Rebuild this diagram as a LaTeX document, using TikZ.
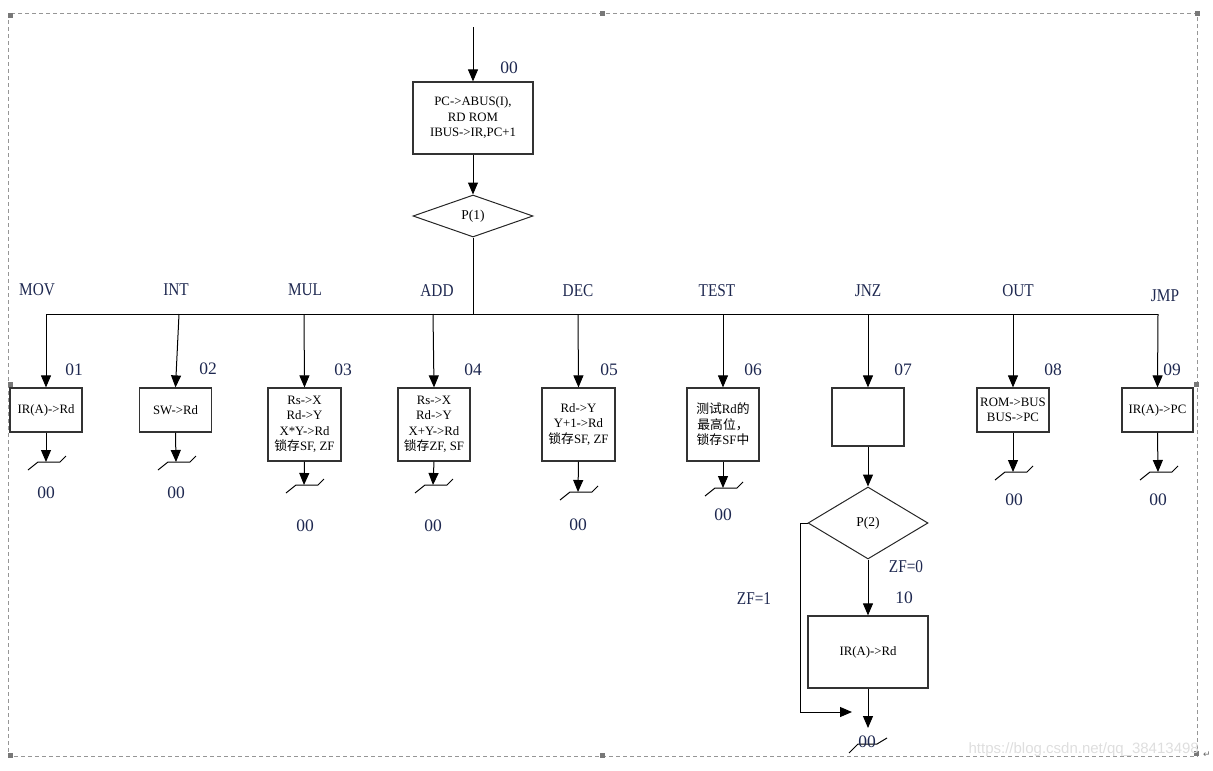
\documentclass[tikz,border=0pt]{standalone}
\usepackage{fontspec}
\setmainfont{Liberation Serif}
\newfontfamily\cjk{Noto Sans CJK SC}
\newfontfamily\lblfont[FakeStretch=0.85]{Liberation Serif}
\newfontfamily\wmfont{Liberation Sans}
\newfontfamily\symfont{DejaVu Sans}
\usetikzlibrary{shapes.geometric,arrows.meta}
\definecolor{lbl}{RGB}{30,40,80}
\definecolor{frame}{RGB}{150,150,150}
\newcommand\nxt[1]{\draw[ln] (#1) ++(-18,8) -- ++(10,-8) -- ++(22,0) -- ++(6,-6);}
\begin{document}
\begin{tikzpicture}[x=1pt,y=-1pt,
  box/.style={draw=black!80,line width=1.2pt,fill=white,align=center,inner sep=1pt,font=\fontsize{12.8}{15.5}\selectfont},
  dia/.style={draw=black!85,line width=1pt,diamond,inner sep=0pt,font=\fontsize{13.5}{14}\selectfont},
  arr/.style={line width=1pt,-{Triangle[width=10pt,length=12pt]}},
  ln/.style={line width=1pt},
  lname/.style={text=lbl,font=\lblfont\fontsize{18}{20}\selectfont,inner sep=0pt},
  lnum/.style={text=lbl,font=\fontsize{17.5}{20}\selectfont,inner sep=0pt},
  handle/.style={fill=frame!80!black,draw=none}]
\useasboundingbox (0,0) rectangle (1213,771);

% frame
\draw[frame,line width=0.8pt,dash pattern=on 4pt off 3pt] (8,13) rectangle (1197,756);
\fill[handle] (8,13) rectangle (13,18);
\fill[handle] (600,11) rectangle (605,16);
\fill[handle] (1195,11) rectangle (1200,16);
\fill[handle] (8,382) rectangle (13,387);
\fill[handle] (1194,382) rectangle (1199,387);
\fill[handle] (8,753) rectangle (13,758);
\fill[handle] (600,753) rectangle (605,758);
\fill[handle] (1194,751) rectangle (1199,756);
\node[anchor=east,text=black!13,font=\wmfont\fontsize{15}{15}\selectfont,inner sep=0pt] (wm) at (1199,750) {https://blog.csdn.net/qq\_38413498};
\node[font=\symfont\fontsize{9}{9}\selectfont,text=black!60,inner sep=0pt] (ret) at (1207,755) {↵};

% top
\coordinate (start) at (473,27);
\node[box,minimum width=120pt,minimum height=72pt] (b00) at (473,118) {PC->ABUS(I),\\RD ROM\\IBUS->IR,PC+1};
\node[lnum] (l00) at (509,68) {00};
\node[dia,minimum width=120pt,minimum height=42pt] (d1) at (473,216) {P(1)};
\draw[arr] (start) -- (b00);
\draw[arr] (b00) -- (d1);

% bus
\coordinate (tbus) at (473,314);
\coordinate (t01) at (46,314);
\coordinate (t02) at (179,314);
\coordinate (t03) at (304,314);
\coordinate (t04) at (433,314);
\coordinate (t05) at (578,314);
\coordinate (t06) at (723,314);
\coordinate (t07) at (868,314);
\coordinate (t08) at (1013,314);
\coordinate (t09) at (1158,314);
\draw[ln] (d1.south) -- (tbus);
\draw[ln] (t01) -- (t09);

% names
\node[lname] (nMOV) at (37,290) {MOV};
\node[lname] (nINT) at (176,290) {INT};
\node[lname] (nMUL) at (305,290) {MUL};
\node[lname] (nADD) at (437,291) {ADD};
\node[lname] (nDEC) at (578,291) {DEC};
\node[lname] (nTEST) at (717,291) {TEST};
\node[lname] (nJNZ) at (868,291) {JNZ};
\node[lname] (nOUT) at (1018,291) {OUT};
\node[lname] (nJMP) at (1165,296) {JMP};

% boxes
\node[box,minimum width=72pt,minimum height=44pt] (b01) at (46,410) {IR(A)->Rd};
\node[box,minimum width=72pt,minimum height=44pt] (b02) at (175.5,410) {SW->Rd};
\node[box,minimum width=73pt,minimum height=73pt] (b03) at (304.5,424.5) {Rs->X\\Rd->Y\\X*Y->Rd\\{\cjk 锁存}SF, ZF};
\node[box,minimum width=72pt,minimum height=73pt] (b04) at (434,424.5) {Rs->X\\Rd->Y\\X+Y->Rd\\{\cjk 锁存}ZF, SF};
\node[box,minimum width=73pt,minimum height=73pt] (b05) at (578.5,424.5) {Rd->Y\\Y+1->Rd\\{\cjk 锁存}SF, ZF};
\node[box,minimum width=72pt,minimum height=73pt] (b06) at (723,424.5) {{\cjk 测试}Rd{\cjk 的}\\{\cjk 最高位，}\\{\cjk 锁存}SF{\cjk 中}};
\node[box,minimum width=72pt,minimum height=58pt] (b07) at (868,417) {};
\node[box,minimum width=72pt,minimum height=44pt] (b08) at (1013,410) {ROM->BUS\\BUS->PC};
\node[box,minimum width=71pt,minimum height=44pt] (b09) at (1157.5,410) {IR(A)->PC};
\node[dia,minimum width=120pt,minimum height=72pt] (d2) at (868,523) {P(2)};
\node[box,minimum width=120pt,minimum height=72pt] (b10) at (868,652) {IR(A)->Rd};

% numbers
\node[lnum] (l01) at (74,370) {01};
\node[lnum] (l02) at (208,369) {02};
\node[lnum] (l03) at (343,370) {03};
\node[lnum] (l04) at (473,370) {04};
\node[lnum] (l05) at (609,370) {05};
\node[lnum] (l06) at (753,370) {06};
\node[lnum] (l07) at (903,370) {07};
\node[lnum] (l08) at (1053,370) {08};
\node[lnum] (l09) at (1172,370) {09};
\node[lnum] (l10) at (904,598) {10};
\node[lname] (zf0) at (906,567) {ZF=0};
\node[lname] (zf1) at (754,599) {ZF=1};

% branch arrows
\draw[arr] (t01) -- (b01.north);
\draw[arr] (t02) -- (b02.north);
\draw[arr] (t03) -- (b03.north);
\draw[arr] (t04) -- (b04.north);
\draw[arr] (t05) -- (b05.north);
\draw[arr] (t06) -- (b06.north);
\draw[arr] (t07) -- (b07.north);
\draw[arr] (t08) -- (b08.north);
\draw[arr] (t09) -- (b09.north);
\draw[arr] (b07) -- (d2);
\draw[arr] (d2) -- (b10);

% next symbols
\coordinate (s01) at (46,462);
\coordinate (s02) at (176,462);
\coordinate (s03) at (304,485);
\coordinate (s04) at (433,485);
\coordinate (s05) at (578,492);
\coordinate (s06) at (723,488);
\coordinate (s08) at (1013,472);
\coordinate (s09) at (1158,472);
\foreach \i in {01,02,03,04,05,06,08,09}{
  \draw[arr] (b\i.south) -- (s\i);
  \nxt{s\i}
}
\node[lnum] (e01) at (46,493) {00};
\node[lnum] (e02) at (176,493) {00};
\node[lnum] (e03) at (305,526) {00};
\node[lnum] (e04) at (433,526) {00};
\node[lnum] (e05) at (578,525) {00};
\node[lnum] (e06) at (723,515) {00};
\node[lnum] (e08) at (1014,500) {00};
\node[lnum] (e09) at (1158,500) {00};

% JNZ exit
\coordinate (a10) at (868,728);
\coordinate (s10) at (868,744);
\draw[arr] (b10) -- (a10);
\draw[ln] (s10) ++(-19,9) -- ++(9,-9) -- ++(19,0) -- ++(10,-6);
\node[lnum] (e10) at (867,742) {00};
\coordinate (c1) at (800,523);
\coordinate (c2) at (800,712);
\coordinate (c3) at (852,712);
\draw[arr] (d2.west) -- (c1) -- (c2) -- (c3);
\end{tikzpicture}
\end{document}
